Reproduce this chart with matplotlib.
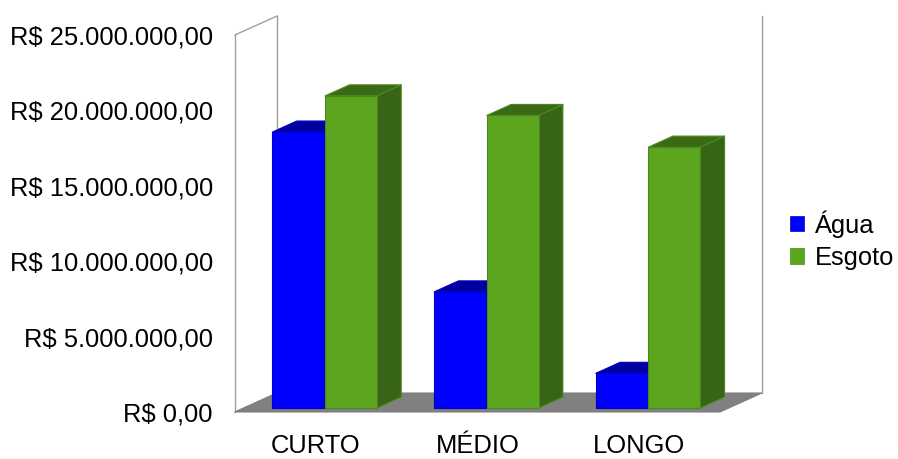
import numpy as np
import matplotlib
matplotlib.use("Agg")
import matplotlib.pyplot as plt
from matplotlib.patches import Polygon, Patch
from matplotlib.transforms import IdentityTransform

plt.rcParams['font.family'] = ['Liberation Sans', 'DejaVu Sans']

categories = ['CURTO', 'MÉDIO', 'LONGO']
series_names = ['Água', 'Esgoto']
agua = [18.3e6, 7.7e6, 2.3e6]
esgoto = [20.7e6, 19.4e6, 17.3e6]
yticks = [0, 5e6, 10e6, 15e6, 20e6, 25e6]
ytick_labels = ['R$ 0,00', 'R$ 5.000.000,00', 'R$ 10.000.000,00',
                'R$ 15.000.000,00', 'R$ 20.000.000,00', 'R$ 25.000.000,00']

# face colours: front, top, side, outline
colors = {
    'Água': ('#0000ff', '#0000a0', '#0000b8', '#0000c8'),
    'Esgoto': ('#5ca51f', '#3a6a15', '#376416', '#4a8a1c'),
}

W, H = 898, 459
fig = plt.figure(figsize=(W / 100, H / 100), dpi=100)
ax = fig.add_axes([235 / W, 47 / H, 485 / W, 377 / H])
ax.set_xlim(-0.5, 2.5)
ax.set_ylim(0, 25e6)
for s in ax.spines.values():
    s.set_visible(False)
ax.set_facecolor('none')

ax.set_yticks(yticks)
ax.set_yticklabels(ytick_labels, fontsize=18.4)
ax.set_xticks(range(len(categories)))
ax.set_xticklabels(categories, fontsize=18.4)
ax.tick_params(axis='y', length=0, pad=16)
ax.tick_params(axis='x', length=0, pad=16)
for lbl in ax.get_xticklabels():
    lbl.set_x(lbl.get_position()[0])

# 3d depth of the floor in pixels and the slab the bars occupy
depth = np.array([42.0, 19.0])
bar_front, bar_back = 0.21, 0.79

fig.canvas.draw()
to_px = ax.transData.transform


def poly(points, **kw):
    p = Polygon(points, closed=True, transform=IdentityTransform(), **kw)
    fig.add_artist(p)
    return p


def line(points, **kw):
    pts = np.array(points)
    fig.add_artist(plt.Line2D(pts[:, 0], pts[:, 1], transform=IdentityTransform(), **kw))


# floor and walls
fl = to_px([(-0.5, 0), (2.5, 0)])
poly([fl[0], fl[1], fl[1] + depth, fl[0] + depth], facecolor='#808080', edgecolor='#808080', lw=0.8, zorder=1)
tl = to_px([(-0.5, 0), (-0.5, 25e6)])
wall_kw = dict(color='#a0a0a0', lw=1.0, zorder=0.5)
line([tl[0], tl[1]], **wall_kw)
line([tl[0] + depth, tl[1] + depth], **wall_kw)
line([tl[1], tl[1] + depth], **wall_kw)
line([tl[0], tl[0] + depth], **wall_kw)
br = to_px([(2.5, 0), (2.5, 25e6)]) + depth
line([br[0], br[1]], **wall_kw)

width = 0.32
offsets = [-0.163, 0.163]
off_f = depth * bar_front
off_b = depth * bar_back
for i in range(len(categories)):
    for name, vals, dx in zip(series_names, [agua, esgoto], offsets):
        front, top, side, edge = colors[name]
        x0, x1 = i + dx - width / 2, i + dx + width / 2
        p = to_px([(x0, 0), (x1, 0), (x1, vals[i]), (x0, vals[i])])
        f = p + off_f
        b = p + off_b
        kw = dict(edgecolor=edge, lw=0.8, joinstyle='round', zorder=3)
        poly([f[1], b[1], b[2], f[2]], facecolor=side, **kw)
        poly([f[3], f[2], b[2], b[3]], facecolor=top, **kw)
        poly(f, facecolor=front, **kw)

handles = [Patch(facecolor=colors[n][0], edgecolor=colors[n][3], lw=0.5) for n in series_names]
fig.legend(handles, series_names, loc='center left', bbox_to_anchor=(780 / W, 1 - 240 / H),
           frameon=False, fontsize=18.4, handlelength=0.55, handleheight=0.55,
           handletextpad=0.4, labelspacing=0.33, borderaxespad=0)

fig.savefig('out.png', dpi=100)
